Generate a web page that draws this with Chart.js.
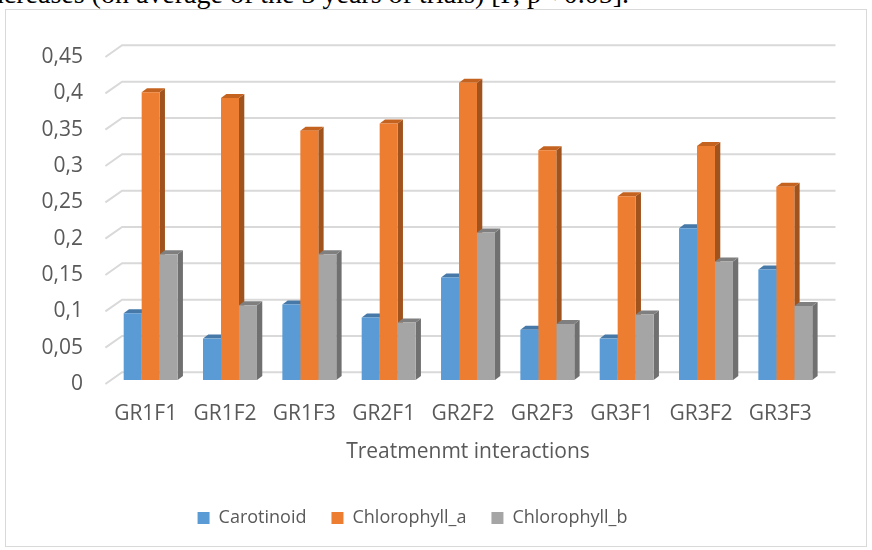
<!DOCTYPE html>
<html>
<head>
<meta charset="utf-8">
<script src="https://cdn.jsdelivr.net/npm/chart.js@4.4.1/dist/chart.umd.min.js"></script>
<style>
  html, body { margin: 0; padding: 0; background: #ffffff; }
  #wrap { position: relative; width: 872px; height: 550px; overflow: hidden; }
  #caption {
    position: absolute; left: -18px; top: -18px; white-space: nowrap;
    font-family: "Liberation Serif", serif; font-size: 28px; line-height: 24px; color: #000;
  }
  #frame {
    position: absolute; left: 5px; top: 9px; width: 862px; height: 538px;
    border: 1px solid #d9d9d9; box-sizing: border-box;
  }
  #chart { position: absolute; left: 0; top: 0; }
</style>
</head>
<body>
<div id="wrap">
  <div id="caption">increases (on average of the 3 years of trials) [P, p&lt; 0.05].</div>
  <div id="frame"></div>
  <canvas id="chart" width="872" height="550"></canvas>
</div>
<script>
// Data
const categories = ['GR1F1', 'GR1F2', 'GR1F3', 'GR2F1', 'GR2F2', 'GR2F3', 'GR3F1', 'GR3F2', 'GR3F3'];
const carotinoid = [0.092, 0.057, 0.104, 0.086, 0.141, 0.069, 0.057, 0.209, 0.152];
const chlorophyllA = [0.396, 0.388, 0.343, 0.353, 0.409, 0.316, 0.253, 0.322, 0.266];
const chlorophyllB = [0.173, 0.103, 0.173, 0.079, 0.203, 0.077, 0.090, 0.163, 0.102];
const seriesNames = ['Carotinoid', 'Chlorophyll_a', 'Chlorophyll_b'];

// front / side / top shades for the pseudo 3D columns
const frontColors = ['#5b9bd5', '#ed7d31', '#a5a5a5'];
const sideColors = ['#3f6f9c', '#a0531d', '#707070'];
const topColors = ['#4678a8', '#c4631f', '#7f7f7f'];

const textColor = '#595959';
const fontFamily = '"Open Sans", "Noto Sans", sans-serif';

// oblique depth of the bars, and of the floor / back wall relative to the bar plane
const depthX = 5.3, depthY = 4;
const frontX = -5.6, frontY = 4;
const backX = 11.1, backY = -7.7;

const bar3d = {
    id: 'bar3d',
    beforeDatasetsDraw(chart) {
        const { ctx, chartArea } = chart;
        const yScale = chart.scales.y;
        ctx.save();

        // 3D gridlines: slanted floor edge + back wall line
        ctx.strokeStyle = '#d9d9d9';
        ctx.lineWidth = 2;
        yScale.ticks.forEach(t => {
            const py = yScale.getPixelForValue(t.value);
            ctx.beginPath();
            ctx.moveTo(chartArea.left + frontX, py + frontY);
            ctx.lineTo(chartArea.left + backX, py + backY);
            ctx.lineTo(chartArea.right + 10.5, py + backY);
            ctx.stroke();
        });

        // side and top faces, drawn left to right so later fronts hide them
        categories.forEach((c, i) => {
            chart.data.datasets.forEach((ds, d) => {
                const bar = chart.getDatasetMeta(d).data[i];
                const { x, y, base, width } = bar.getProps(['x', 'y', 'base', 'width'], true);
                const l = x - width / 2;
                const r = x + width / 2;

                ctx.fillStyle = sideColors[d];
                ctx.beginPath();
                ctx.moveTo(r, y);
                ctx.lineTo(r + depthX, y - depthY);
                ctx.lineTo(r + depthX, base - depthY);
                ctx.lineTo(r, base);
                ctx.closePath();
                ctx.fill();

                ctx.fillStyle = topColors[d];
                ctx.beginPath();
                ctx.moveTo(l, y);
                ctx.lineTo(l + depthX, y - depthY);
                ctx.lineTo(r + depthX, y - depthY);
                ctx.lineTo(r, y);
                ctx.closePath();
                ctx.fill();
            });
        });
        ctx.restore();
    }
};

new Chart(document.getElementById('chart'), {
    type: 'bar',
    data: {
        labels: categories,
        datasets: [carotinoid, chlorophyllA, chlorophyllB].map((values, d) => ({
            label: seriesNames[d],
            data: values,
            backgroundColor: frontColors[d],
            borderWidth: 0,
            barPercentage: 1,
            categoryPercentage: 0.68
        }))
    },
    options: {
        responsive: false,
        animation: false,
        layout: {
            padding: { top: 53, right: 47, bottom: 13, left: 0 }
        },
        scales: {
            x: {
                grid: { display: false, drawTicks: false },
                border: { display: false },
                ticks: {
                    color: textColor,
                    font: { family: fontFamily, size: 21 },
                    padding: 21,
                    labelOffset: -5,
                    maxRotation: 0
                },
                title: {
                    display: true,
                    text: 'Treatmenmt interactions',
                    color: textColor,
                    font: { family: fontFamily, size: 21 },
                    padding: { top: 0, bottom: 19 }
                },
                afterFit(scale) { scale.height = 104; }
            },
            y: {
                min: 0,
                max: 0.45,
                grid: { display: false, drawTicks: false },
                border: { display: false },
                ticks: {
                    stepSize: 0.05,
                    color: textColor,
                    font: { family: fontFamily, size: 21 },
                    padding: 28,
                    labelOffset: 4,
                    callback: v => String(Math.round(v * 100) / 100).replace('.', ',')
                },
                afterFit(scale) { scale.width = 111; }
            }
        },
        plugins: {
            legend: {
                position: 'bottom',
                labels: {
                    color: textColor,
                    font: { family: fontFamily, size: 18 },
                    boxWidth: 12,
                    boxHeight: 12,
                    padding: 25
                }
            },
            tooltip: { enabled: false }
        }
    },
    plugins: [bar3d]
});
</script>
</body>
</html>
